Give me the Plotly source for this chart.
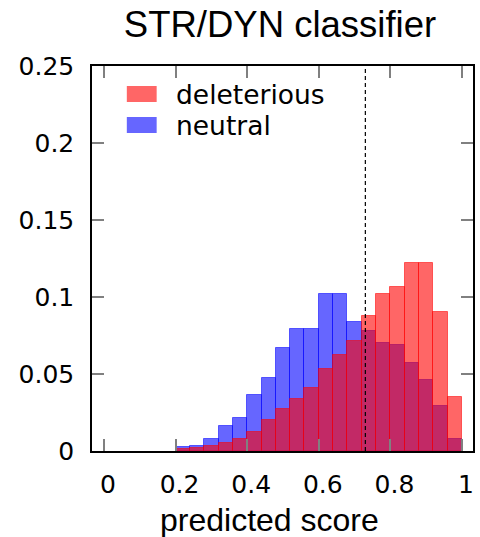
import plotly.graph_objects as go

# ---- data ----
bin_left = [0.20, 0.24, 0.28, 0.32, 0.36, 0.40, 0.44, 0.48, 0.52, 0.56,
            0.60, 0.64, 0.68, 0.72, 0.76, 0.80, 0.84, 0.88, 0.92, 0.96]
bin_width = 0.04
deleterious = [0.0013, 0.0022, 0.0035, 0.0052, 0.0078, 0.0126, 0.0204, 0.0270, 0.0340, 0.0406,
               0.0534, 0.0625, 0.0712, 0.0879, 0.1022, 0.1068, 0.1224, 0.1224, 0.0905, 0.0352]
neutral = [0.0026, 0.0035, 0.0078, 0.0165, 0.0217, 0.0365, 0.0475, 0.0670, 0.0794, 0.0794,
           0.1022, 0.1022, 0.0840, 0.0781, 0.0699, 0.0686, 0.0573, 0.0464, 0.0295, 0.0078]
threshold = 0.73
x_ticks = [0, 0.2, 0.4, 0.6, 0.8, 1]
x_tick_text = ["0", "0.2", "0.4", "0.6", "0.8", "1"]
y_ticks = [0, 0.05, 0.1, 0.15, 0.2, 0.25]
y_tick_text = ["0", "0.05", "0.1", "0.15", "0.2", "0.25"]
series_names = ["deleterious", "neutral"]
title_text = "STR/DYN classifier"
x_title = "predicted score"

RED = "rgba(255,0,0,0.6)"
BLUE = "rgba(0,0,255,0.6)"

W, H = 480, 537
L, R, T, B = 92, 5, 66, 86

fig = go.Figure()
fig.add_trace(go.Bar(x=bin_left, y=neutral, width=bin_width, offset=0,
                     marker=dict(color=BLUE, line=dict(color="rgba(0,0,255,0.55)", width=1)),
                     name=series_names[1], showlegend=False))
fig.add_trace(go.Bar(x=bin_left, y=deleterious, width=bin_width, offset=0,
                     marker=dict(color=RED, line=dict(color="rgba(255,0,0,0.55)", width=1)),
                     name=series_names[0], showlegend=False))

# threshold line
fig.add_shape(type="line", xref="x", yref="paper", x0=threshold, x1=threshold, y0=0, y1=1,
              line=dict(color="black", width=1.2, dash="4px,3px"))

# pixel -> paper helpers
def px(xp):
    return (xp - L) / (W - L - R)

def py(yp):
    return (H - B - yp) / (H - T - B)

# manual legend
for i, (name, col) in enumerate([(series_names[0], RED), (series_names[1], BLUE)]):
    yc = 94 + i * 31
    fig.add_shape(type="rect", xref="paper", yref="paper",
                  x0=px(127), x1=px(157), y0=py(yc + 8), y1=py(yc - 8),
                  fillcolor=col, line=dict(width=0))
    fig.add_annotation(xref="paper", yref="paper", x=px(174), y=py(yc), text=name,
                       showarrow=False, xanchor="left", yanchor="middle",
                       font=dict(family="DejaVu Sans", size=26.5, color="black"))

# x axis title
fig.add_annotation(xref="paper", yref="paper", x=px(270), y=py(520), text=x_title,
                   showarrow=False, xanchor="center", yanchor="middle",
                   font=dict(family="Liberation Sans", size=32, color="black"))

axis_common = dict(showline=True, linecolor="black", linewidth=1.5, mirror="allticks",
                   ticks="inside", ticklen=12, tickwidth=1.5, tickcolor="#808080",
                   showgrid=False, zeroline=False,
                   tickfont=dict(family="DejaVu Sans", size=25, color="black"))

fig.update_layout(
    width=W, height=H,
    margin=dict(l=L, r=R, t=T, b=B),
    paper_bgcolor="white", plot_bgcolor="white",
    barmode="overlay", bargap=0,
    title=dict(text=title_text, x=280 / W, xanchor="center", xref="container",
               y=1 - 24 / H, yanchor="middle",
               font=dict(family="Liberation Sans", size=36.5, color="black")),
    xaxis=dict(range=[-0.0333, 1.0306], tickvals=x_ticks, ticktext=x_tick_text,
               ticklabelstandoff=10, ticklabelshift=4, **axis_common),
    yaxis=dict(range=[0, 0.25], tickvals=y_ticks, ticktext=y_tick_text,
               ticklabelstandoff=11, **axis_common),
)

fig.write_html("out.html")
